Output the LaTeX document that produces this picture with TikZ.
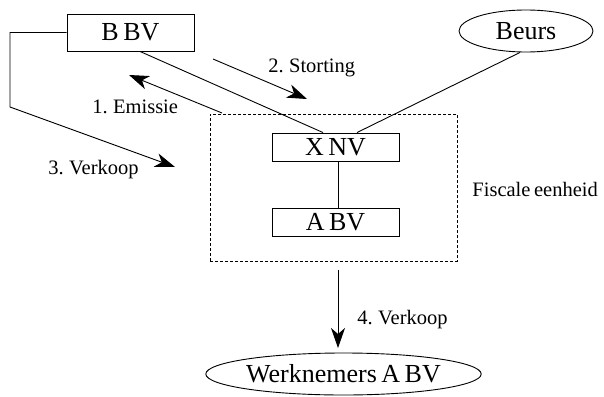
\documentclass[tikz,border=0pt]{standalone}
\usepackage{fontspec}
\setmainfont{Liberation Serif}[WordSpace=0.7]
\usetikzlibrary{arrows.meta,shapes.geometric}
\begin{document}
\begin{tikzpicture}[x=1pt,y=-1pt,
  line width=0.9pt,
  box/.style={draw,rectangle,inner sep=0pt,minimum width=127pt,font=\fontsize{26}{28}\selectfont},
  oval/.style={draw,ellipse,inner sep=0pt,font=\fontsize{26}{28}\selectfont},
  lbl/.style={inner sep=0pt,anchor=base west,font=\fontsize{20.5}{22}\selectfont},
  arr/.style={-{Stealth[length=20pt,width=14pt,inset=6pt]}},
  group/.style={draw,dashed,dash pattern=on 3pt off 2pt,rectangle,inner sep=0pt}]
\useasboundingbox (0,0) rectangle (604,396);
% nodes
\node[box,minimum height=37pt] (bbv) at (130.5,32.5) {B BV};
\node[oval,minimum width=134pt,minimum height=42pt] (beurs) at (526,31) {Beurs};
\node[group,minimum width=247pt,minimum height=147pt] (fe) at (333.5,187.5) {};
\node[box,minimum height=28pt] (xnv) at (335.5,147) {X NV};
\node[box,minimum height=28pt] (abv) at (335.5,222) {A BV};
\node[oval,minimum width=229pt,minimum height=42pt] (werk) at (343.5,374) {Werknemers A BV};
% labels
\node[lbl] (l2) at (268,72) {2. Storting};
\node[lbl] (l1) at (92,113) {1. Emissie};
\node[lbl] (l3) at (48,174) {3. Verkoop};
\node[lbl] (l4) at (357,324) {4. Verkoop};
\node[lbl] (lfe) at (472,196) {Fiscale eenheid};
% free arrow ends
\coordinate (s2a) at (213,59);
\coordinate (s2b) at (307,99);
\coordinate (e1a) at (222,113);
\coordinate (e1b) at (129,75);
\coordinate (v3c) at (10,32.5);
\coordinate (v3d) at (10,107);
\coordinate (v3b) at (175,167);
\coordinate (v4a) at (338,270);
\coordinate (v4b) at (338,348);
% connectors
\draw ([xshift=9.5pt]bbv.south) -- ([xshift=-12.5pt]xnv.north);
\draw ([xshift=-6pt]beurs.south) -- ([xshift=21.5pt]xnv.north);
\draw ([xshift=2.5pt]xnv.south) -- ([xshift=2.5pt]abv.north);
\draw[arr] (s2a) -- (s2b);
\draw[arr] (e1a) -- (e1b);
\draw[arr] (bbv.west) -- (v3c) -- (v3d) -- (v3b);
\draw[arr] (v4a) -- (v4b);
\end{tikzpicture}
\end{document}
